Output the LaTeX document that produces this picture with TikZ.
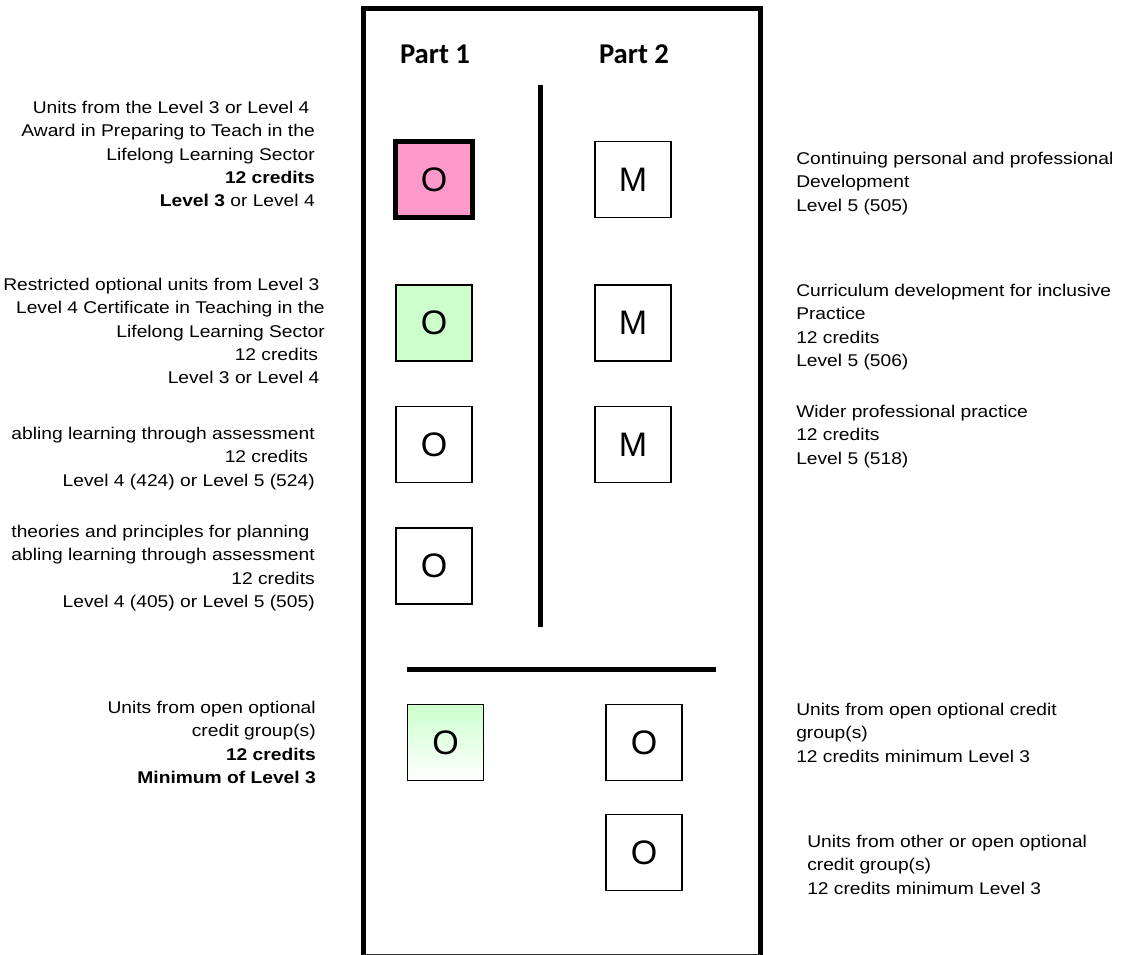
\documentclass[tikz,border=0pt]{standalone}
\usepackage{fontspec}
\setmainfont{Liberation Sans}
\newfontfamily\smallfont[FakeStretch=1.13]{Liberation Sans}
\newfontfamily\partfont{Carlito}
\begin{document}
\begin{tikzpicture}[x=0.75pt,y=-0.75pt,
  unitbox/.style={draw=black,line width=0.8pt,minimum width=57pt,minimum height=57pt,inner sep=0pt,
    font=\fontsize{25.5pt}{28pt}\selectfont},
  lefttext/.style={anchor=north east,align=right,inner sep=0pt,font=\smallfont\fontsize{12.75pt}{17.45pt}\selectfont},
  righttext/.style={anchor=north west,align=left,inner sep=0pt,font=\smallfont\fontsize{12.75pt}{17.45pt}\selectfont},
  parttitle/.style={anchor=base,inner sep=0pt,font=\partfont\bfseries\fontsize{21.5pt}{24pt}\selectfont},
  thickline/.style={line width=3.75pt}]
\useasboundingbox (0,0) rectangle (1125,955);
% outer frame
\draw[thickline] (363.5,955) -- (363.5,8.5) -- (760,8.5) -- (760,955);
\draw[line width=1pt,black!80] (363.5,954.5) -- (760,954.5);
% titles
\node[parttitle] (p1) at (435,64) {Part 1};
\node[parttitle] (p2) at (634,64) {Part 2};
% dividers
\coordinate (vtop) at (540,85);
\coordinate (vbot) at (540,627);
\draw[thickline] (vtop) -- (vbot);
\coordinate (hl) at (407,669);
\coordinate (hr) at (716,669);
\draw[thickline] (hl) -- (hr);
% boxes
\node[unitbox,fill={rgb,255:red,255;green,153;blue,204},line width=3.6pt,minimum width=57.5pt,minimum height=57.5pt] (b1) at (434,179.5) {O};
\node[unitbox] (m1) at (633,179.5) {M};
\node[unitbox,fill={rgb,255:red,204;green,255;blue,204}] (b2) at (434,323) {O};
\node[unitbox] (m2) at (633,323) {M};
\node[unitbox] (b3) at (434,444.5) {O};
\node[unitbox] (m3) at (633,444.5) {M};
\node[unitbox] (b4) at (434,566) {O};
\node[unitbox,top color={rgb,255:red,204;green,255;blue,204},bottom color=white] (b5) at (445.5,742.5) {O};
\node[unitbox] (b6) at (644,742.5) {O};
\node[unitbox] (b7) at (644,852.5) {O};
% left texts
\node[lefttext] (t1) at (315,101) {Units from the Level 3 or Level 4\kern4pt\\Award in Preparing to Teach in the\\Lifelong Learning Sector\\\textbf{12 credits}\\\textbf{Level 3} or Level 4};
\node[lefttext] (t2) at (325,278) {Restricted optional units from Level 3\kern4pt\\Level 4 Certificate in Teaching in the\\Lifelong Learning Sector\\12 credits\kern5pt\\Level 3 or Level 4\kern4pt};
\node[lefttext] (t3) at (315,427) {abling learning through assessment\\12 credits\kern5pt\\Level 4 (424) or Level 5 (524)};
\node[lefttext] (t4) at (315,525) {theories and principles for planning\kern4pt\\abling learning through assessment\\12 credits\\Level 4 (405) or Level 5 (505)};
\node[lefttext] (t5) at (316,701) {Units from open optional\\credit group(s)\\\textbf{12 credits}\\\textbf{Minimum of Level 3}};
% right texts
\node[righttext] (r1) at (796,152) {Continuing personal and professional\\Development\\Level 5 (505)};
\node[righttext] (r2) at (796,284) {Curriculum development for inclusive\\Practice\\12 credits\\Level 5 (506)};
\node[righttext] (r3) at (796,405) {Wider professional practice\\12 credits\\Level 5 (518)};
\node[righttext] (r4) at (796,703) {Units from open optional credit\\group(s)\\12 credits minimum Level 3};
\node[righttext] (r5) at (807,835) {Units from other or open optional\\credit group(s)\\12 credits minimum Level 3};
\end{tikzpicture}
\end{document}
